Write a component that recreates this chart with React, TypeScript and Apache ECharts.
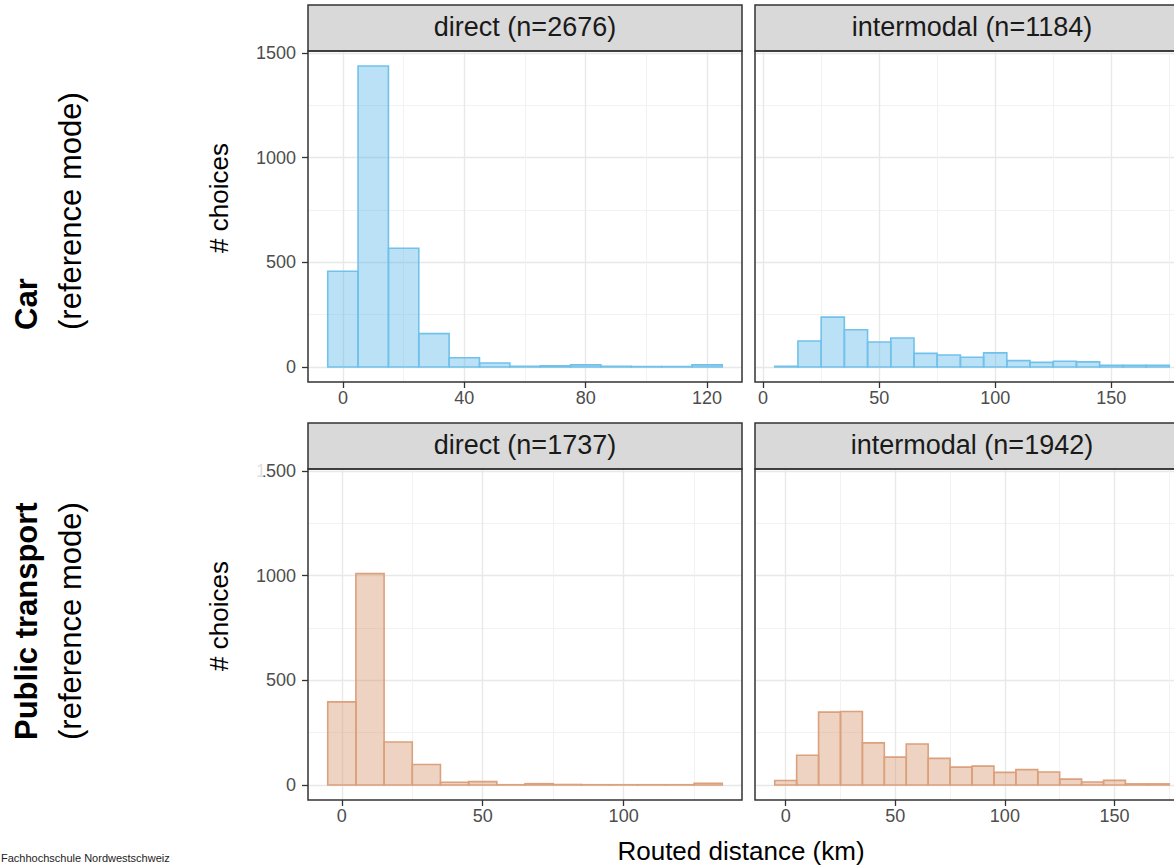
import React, { useEffect, useRef } from 'react';
import * as echarts from 'echarts';

// ---------- data ----------
const BIN_WIDTH = 10;

const carDirectCenters = [0, 10, 20, 30, 40, 50, 60, 70, 80, 90, 100, 110, 120];
const carDirectCounts = [457, 1438, 567, 159, 44, 19, 3, 6, 10, 3, 2, 2, 10];

const carInterCenters = [10, 20, 30, 40, 50, 60, 70, 80, 90, 100, 110, 120, 130, 140, 150, 160, 170];
const carInterCounts = [3, 124, 238, 178, 119, 138, 65, 57, 46, 67, 30, 22, 27, 24, 8, 8, 8];

const ptDirectCenters = [0, 10, 20, 30, 40, 50, 60, 70, 80, 90, 100, 110, 120, 130];
const ptDirectCounts = [397, 1010, 205, 98, 13, 16, 1, 6, 2, 1, 1, 1, 1, 8];

const ptInterCenters = [0, 10, 20, 30, 40, 50, 60, 70, 80, 90, 100, 110, 120, 130, 140, 150, 160, 170];
const ptInterCounts = [21, 142, 348, 351, 201, 133, 196, 127, 85, 90, 60, 73, 62, 28, 14, 22, 5, 5];

const yTicks = [0, 500, 1000, 1500];
const yMinorTicks = [250, 750, 1250];
const Y_MIN = -72;
const Y_MAX = 1510;

const stripLabels = ['direct (n=2676)', 'intermodal (n=1184)', 'direct (n=1737)', 'intermodal (n=1942)'];
const rowLabelsBold = ['Car', 'Public transport'];
const rowLabelsSub = ['(reference mode)', '(reference mode)'];
const yTitle = '# choices';
const xTitle = 'Routed distance (km)';
const footerText = 'Fachhochschule Nordwestschweiz';

// ---------- styles ----------
const FONT = "'Liberation Sans', Arial, Helvetica, sans-serif";
const BLUE = { fill: 'rgba(86,180,233,0.40)', stroke: '#72C1EA' };
const ORANGE = { fill: 'rgba(214,150,110,0.42)', stroke: '#DBA07C' };

const panels = [
  { centers: carDirectCenters, counts: carDirectCounts, xMin: -11.5, xMax: 131.5, xTicks: [0, 40, 80, 120], xMinor: [20, 60, 100], left: 308, top: 51, color: BLUE, showY: true },
  { centers: carInterCenters, counts: carInterCounts, xMin: -3.5, xMax: 183.5, xTicks: [0, 50, 100, 150], xMinor: [25, 75, 125, 175], left: 755, top: 51, color: BLUE, showY: false },
  { centers: ptDirectCenters, counts: ptDirectCounts, xMin: -12, xMax: 142, xTicks: [0, 50, 100], xMinor: [25, 75, 125], left: 308, top: 469, color: ORANGE, showY: true },
  { centers: ptInterCenters, counts: ptInterCounts, xMin: -14, xMax: 184, xTicks: [0, 50, 100, 150], xMinor: [25, 75, 125, 175], left: 755, top: 469, color: ORANGE, showY: false },
];
const PW = 434;
const PH = 331;
const STRIP_H = 46;

export default function App() {
  const ref = useRef<HTMLDivElement>(null);

  useEffect(() => {
    if (!ref.current) return;
    const chart = echarts.init(ref.current, undefined, { renderer: 'svg' });

    const grids: any[] = [];
    const xAxes: any[] = [];
    const yAxes: any[] = [];
    const series: any[] = [];
    const graphics: any[] = [];

    const majorLine = { color: '#E8E8E8', width: 1.4 };
    const minorLine = { color: '#F1F1F1', width: 0.9 };
    const plain = (v: number) => String(v);

    panels.forEach((p, i) => {
      grids.push({ left: p.left, top: p.top, width: PW, height: PH, containLabel: false });
      xAxes.push({
        type: 'value', gridIndex: i, min: p.xMin, max: p.xMax, position: 'bottom',
        axisLine: { show: false, onZero: false },
        axisTick: { show: true, customValues: p.xTicks, length: 6, lineStyle: { color: '#333333', width: 1.3 } },
        axisLabel: { show: true, customValues: p.xTicks, formatter: plain, color: '#4D4D4D', fontSize: 18, fontFamily: FONT, margin: 7 },
        splitLine: { show: true, lineStyle: majorLine },
      });
      xAxes.push({
        type: 'value', gridIndex: i, min: p.xMin, max: p.xMax, position: 'bottom',
        axisLine: { show: false, onZero: false },
        axisTick: { show: false, customValues: p.xMinor },
        axisLabel: { show: false },
        splitLine: { show: true, lineStyle: minorLine },
      });
      yAxes.push({
        type: 'value', gridIndex: i, min: Y_MIN, max: Y_MAX,
        axisLine: { show: false, onZero: false },
        axisTick: { show: p.showY, customValues: yTicks, length: 6, lineStyle: { color: '#333333', width: 1.3 } },
        axisLabel: { show: p.showY, customValues: yTicks, formatter: plain, color: '#4D4D4D', fontSize: 18, fontFamily: FONT, margin: 12 },
        splitLine: { show: true, lineStyle: majorLine },
      });
      yAxes.push({
        type: 'value', gridIndex: i, min: Y_MIN, max: Y_MAX,
        axisLine: { show: false, onZero: false },
        axisTick: { show: false, customValues: yMinorTicks },
        axisLabel: { show: false },
        splitLine: { show: true, lineStyle: minorLine },
      });
      const data = p.centers.map((c, k) => [c, p.counts[k]]);
      const color = p.color;
      series.push({
        type: 'custom',
        xAxisIndex: i * 2,
        yAxisIndex: i * 2,
        data,
        encode: { x: 0, y: 1 },
        z: 5,
        renderItem: (params: any, api: any) => {
          const c = api.value(0);
          const v = api.value(1);
          const p0 = api.coord([c - BIN_WIDTH / 2, v]);
          const p1 = api.coord([c + BIN_WIDTH / 2, 0]);
          return {
            type: 'rect',
            shape: { x: p0[0], y: p0[1], width: p1[0] - p0[0], height: p1[1] - p0[1] },
            style: { fill: color.fill, stroke: color.stroke, lineWidth: 1.6 },
          };
        },
      });

      graphics.push({
        type: 'rect', z: 100,
        shape: { x: p.left, y: p.top - STRIP_H, width: PW, height: STRIP_H },
        style: { fill: '#D9D9D9', stroke: '#333333', lineWidth: 1.5 },
      });
      graphics.push({
        type: 'text', z: 101, x: p.left + PW / 2, y: p.top - STRIP_H / 2 - 1,
        style: { text: stripLabels[i], fontSize: 27, fontFamily: FONT, fill: '#1A1A1A', align: 'center', verticalAlign: 'middle' },
      });
      graphics.push({
        type: 'rect', z: 100,
        shape: { x: p.left, y: p.top, width: PW, height: PH },
        style: { fill: 'transparent', stroke: '#333333', lineWidth: 1.5 },
      });
    });

    // faded leading "1" of the bottom-left 1500 label, as in the reference
    graphics.push({
      type: 'rect', z: 102,
      shape: { x: 250, y: 460, width: 13.5, height: 20 },
      style: { fill: 'rgba(255,255,255,0.82)' },
    });

    const rowStartY = [330, 740];
    rowStartY.forEach((y, r) => {
      graphics.push({
        type: 'text', z: 101, x: 26, y, rotation: Math.PI / 2,
        style: { text: rowLabelsBold[r], fontSize: 31, fontWeight: 'bold', fontFamily: FONT, fill: '#000000', align: 'left', verticalAlign: 'middle' },
      });
      graphics.push({
        type: 'text', z: 101, x: 70, y, rotation: Math.PI / 2,
        style: { text: rowLabelsSub[r], fontSize: 31, fontFamily: FONT, fill: '#000000', align: 'left', verticalAlign: 'middle' },
      });
    });
    [198, 616].forEach((y) => {
      graphics.push({
        type: 'text', z: 101, x: 219, y, rotation: Math.PI / 2,
        style: { text: yTitle, fontSize: 26, fontFamily: FONT, fill: '#000000', align: 'center', verticalAlign: 'middle' },
      });
    });
    graphics.push({
      type: 'text', z: 101, x: 741, y: 851,
      style: { text: xTitle, fontSize: 26, fontFamily: FONT, fill: '#000000', align: 'center', verticalAlign: 'middle' },
    });
    graphics.push({
      type: 'text', z: 101, x: 1, y: 863,
      style: { text: footerText, fontSize: 11, fontFamily: FONT, fill: '#222222', align: 'left', verticalAlign: 'bottom' },
    });

    chart.setOption({
      animation: false,
      backgroundColor: '#FFFFFF',
      grid: grids,
      xAxis: xAxes,
      yAxis: yAxes,
      series,
      graphic: { elements: graphics },
    });

    return () => chart.dispose();
  }, []);

  // the plot continues past the right edge of the 1174px page, as in the reference
  return <div ref={ref} style={{ position: 'fixed', left: 0, top: 0, width: 1200, height: 865 }} />;
}
